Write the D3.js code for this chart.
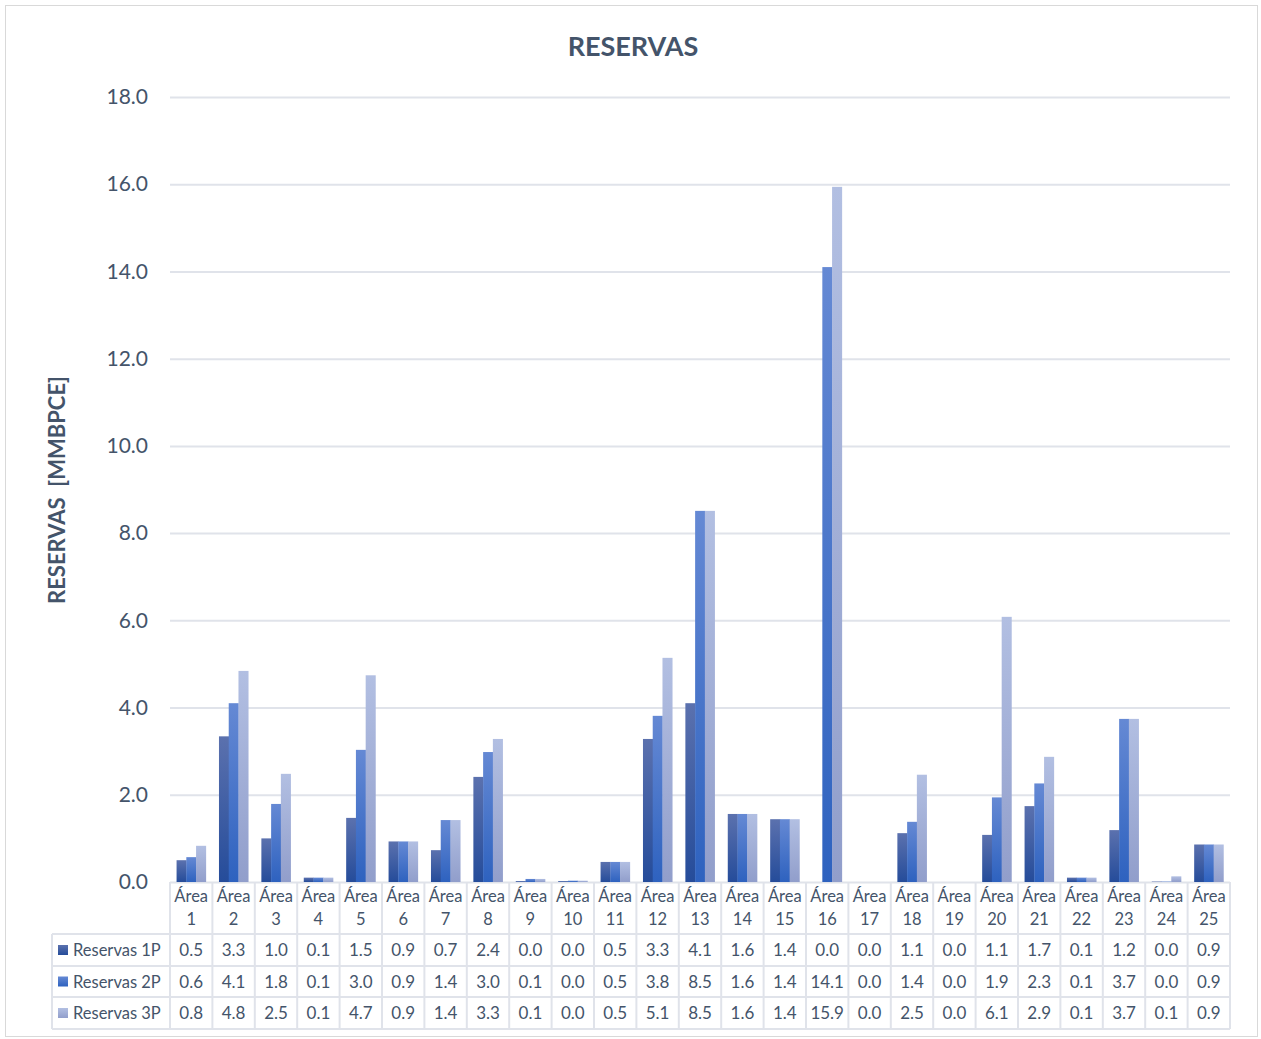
<!DOCTYPE html>
<html><head><meta charset="utf-8">
<script src="https://cdn.jsdelivr.net/npm/d3@7"></script>
<style>body{margin:0;background:#fff;} text{font-family:Lato,"Open Sans",sans-serif;}</style>
</head><body>
<svg id="c" width="1261" height="1039"></svg>
<script>
const categories = ["1","2","3","4","5","6","7","8","9","10","11","12","13","14","15","16","17","18","19","20","21","22","23","24","25"];
const seriesNames = ["Reservas 1P","Reservas 2P","Reservas 3P"];
const reservas1P = [0.50,3.34,1.00,0.10,1.47,0.93,0.73,2.41,0.02,0.02,0.46,3.28,4.10,1.56,1.44,0.00,0.00,1.12,0.00,1.08,1.74,0.10,1.19,0.01,0.86];
const reservas2P = [0.57,4.10,1.79,0.10,3.03,0.93,1.42,2.98,0.07,0.03,0.46,3.81,8.51,1.56,1.44,14.10,0.00,1.38,0.00,1.94,2.26,0.10,3.74,0.01,0.86];
const reservas3P = [0.83,4.84,2.48,0.10,4.74,0.93,1.42,3.28,0.07,0.03,0.46,5.14,8.51,1.56,1.44,15.94,0.00,2.46,0.00,6.08,2.87,0.10,3.74,0.13,0.86];
const yTicks = [0,2,4,6,8,10,12,14,16,18];
const series = [reservas1P, reservas2P, reservas3P];
const gradColors = [["#5b71ae","#254c9a"],["#6589d4","#2e62bf"],["#b2bfe2","#919ecb"]];

const svg = d3.select("#c");
const textCol = "#44546a", gridCol = "#e0e3ea";
svg.append("rect").attr("x",5.5).attr("y",5.5).attr("width",1252).attr("height",1031).attr("fill","#fff").attr("stroke","#d9d9d9");

const defs = svg.append("defs");
gradColors.forEach((c,i)=>{
  const g = defs.append("linearGradient").attr("id","g"+i).attr("x1",0).attr("y1",0).attr("x2",0).attr("y2",1);
  g.append("stop").attr("offset","0%").attr("stop-color",c[0]);
  g.append("stop").attr("offset","100%").attr("stop-color",c[1]);
});

const pLeft=170, pRight=1230, pTop=97, pBottom=882;
const x = d3.scaleBand().domain(categories).range([pLeft,pRight]).paddingInner(0.31).paddingOuter(0.155);
const xs = d3.scaleBand().domain(d3.range(3)).range([0,x.bandwidth()]);
const y = d3.scaleLinear().domain([0,18]).range([pBottom,pTop]);
const xc = d3.scaleBand().domain(categories).range([pLeft,pRight]);

svg.append("text").attr("x",633).attr("y",56).attr("text-anchor","middle").attr("font-size",27).attr("font-weight","bold").attr("fill",textCol).text("RESERVAS");

// grid + y axis
const yAxis = d3.axisLeft(y).tickValues(yTicks).tickFormat(d3.format(".1f")).tickSize(-(pRight-pLeft)).tickPadding(22);
const ga = svg.append("g").attr("transform",`translate(${pLeft},0)`).call(yAxis);
ga.select(".domain").remove();
ga.selectAll("line").attr("stroke",gridCol).attr("stroke-width",2);
ga.selectAll("text").attr("font-size",21).attr("fill",textCol).style("font-family","Lato,'Open Sans',sans-serif");

svg.append("text").attr("transform","translate(65,490) rotate(-90)").attr("text-anchor","middle").attr("font-size",22).attr("font-weight","bold").attr("fill",textCol).text("RESERVAS\u00a0\u00a0[MMBPCE]");

// bars
series.forEach((vals,si)=>{
  svg.append("g").selectAll("rect").data(vals).join("rect")
    .attr("x",(d,i)=>x(categories[i])+xs(si))
    .attr("y",d=>y(d)).attr("width",xs.bandwidth()+0.3)
    .attr("height",d=>y(0)-y(d)).attr("fill",`url(#g${si})`);
});

// table
const rowY = [882,934,966,997,1029];
const tl = svg.append("g");
const line=(x1,y1,x2,y2)=>tl.append("line").attr("x1",x1).attr("y1",y1).attr("x2",x2).attr("y2",y2).attr("stroke",gridCol).attr("stroke-width",2);
[934,966,997,1029].forEach(yy=>line(52,yy,pRight,yy));
line(52,934,52,1029);
categories.forEach(c=>line(xc(c),882,xc(c),1029));
line(pRight,882,pRight,1029);

const fmt = d3.format(".1f");
categories.forEach(c=>{
  const cx = xc(c)+xc.bandwidth()/2;
  svg.append("text").attr("x",cx).attr("y",902).attr("text-anchor","middle").attr("font-size",16.5).attr("fill",textCol).text("Área");
  svg.append("text").attr("x",cx).attr("y",925).attr("text-anchor","middle").attr("font-size",16.5).attr("fill",textCol).text(c);
});
series.forEach((vals,si)=>{
  const cy = (rowY[si+1]+rowY[si+2])/2;
  svg.append("g").selectAll("text").data(vals).join("text")
    .attr("x",(d,i)=>xc(categories[i])+xc.bandwidth()/2).attr("y",cy+6)
    .attr("text-anchor","middle").attr("font-size",17).attr("fill",textCol).text(d=>fmt(d));
  svg.append("rect").attr("x",58).attr("y",cy-5).attr("width",10).attr("height",10).attr("fill",`url(#g${si})`);
  svg.append("text").attr("x",73).attr("y",cy+6).attr("font-size",16.5).attr("fill",textCol).text(seriesNames[si]);
});
</script>
</body></html>
